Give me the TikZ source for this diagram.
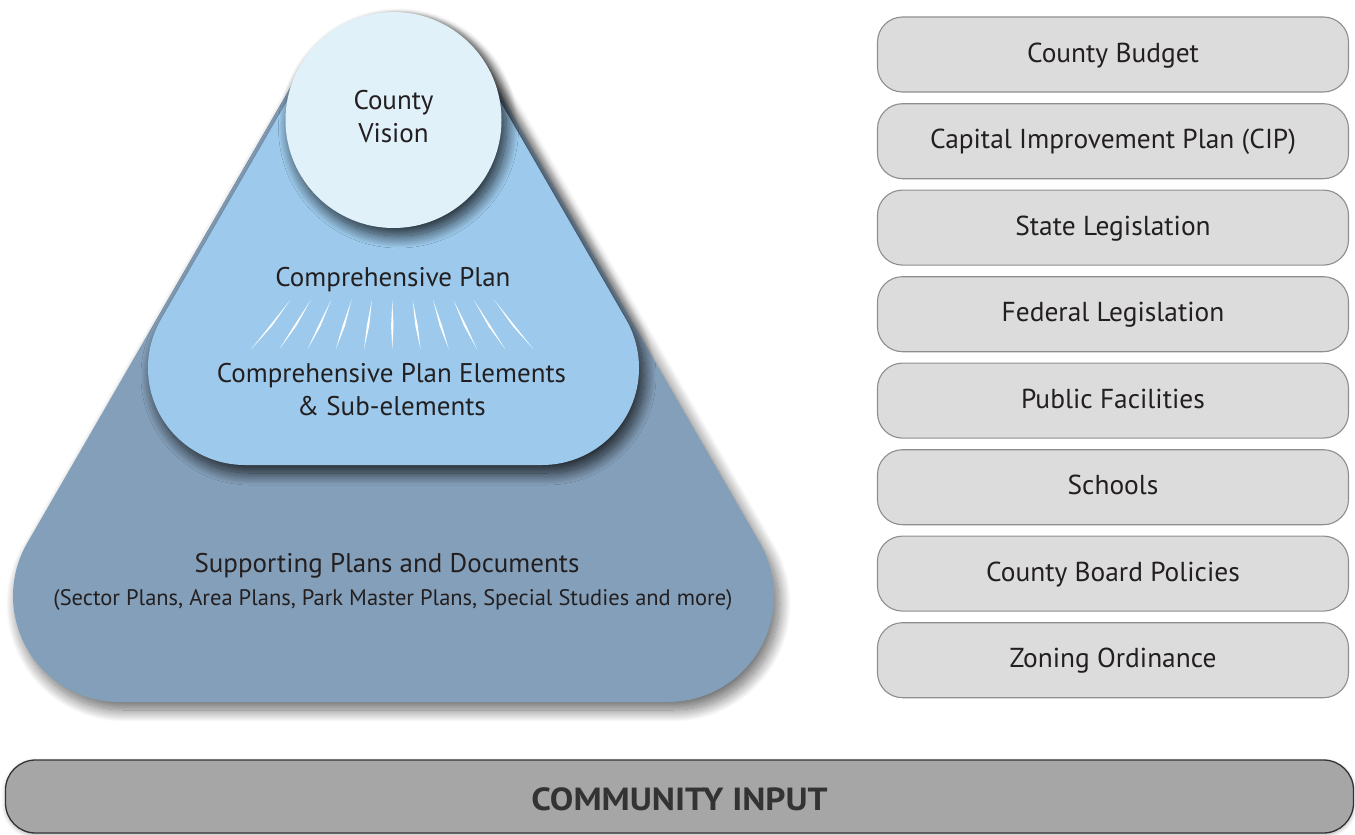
\documentclass[tikz,border=0pt]{standalone}
\usepackage{fontspec}
\setmainfont{PT Sans}
\usetikzlibrary{shadows.blur}
\definecolor{darktri}{HTML}{849FB9}
\definecolor{lighttri}{HTML}{9DCAEC}
\definecolor{circfill}{HTML}{E1F1FA}
\definecolor{boxfill}{HTML}{DCDCDC}
\definecolor{boxline}{HTML}{8E8E8E}
\definecolor{barfill}{HTML}{A6A6A6}
\definecolor{barline}{HTML}{333333}
\definecolor{ink}{HTML}{231F20}
\begin{document}
\begin{tikzpicture}[x=1pt,y=-1pt,
  lbl/.style={text=ink, inner sep=0pt, anchor=base},
  sidebox/.style={draw=boxline, line width=1.1pt, fill=boxfill, rounded corners=25pt,
    minimum width=471pt, minimum height=75pt, inner sep=0pt, text=ink,
    text height=19pt, text depth=4pt, font=\fontsize{27.4}{32}\selectfont},
  ray/.style={fill=white},
  softshadow/.style={blur shadow={shadow xshift=5pt, shadow yshift=-8pt,
    shadow blur radius=12pt, shadow blur steps=30, shadow opacity=#1}}
]
\useasboundingbox (0,0) rectangle (1355,835);

% outer (dark) rounded triangle
\fill[darktri, softshadow=60]
  (119,702) -- (668,702) arc[start angle=90,end angle=-30,radius=106]
  -- (485.3,67.6) arc[start angle=-30,end angle=-150,radius=106]
  -- (27.2,543) arc[start angle=210,end angle=90,radius=106] -- cycle;

% inner (light blue) rounded triangle
\fill[lighttri, softshadow=80]
  (245,465) -- (542,465) arc[start angle=90,end angle=-30,radius=97]
  -- (477.5,62.3) arc[start angle=-30,end angle=-150,radius=97]
  -- (161,319.5) arc[start angle=210,end angle=90,radius=97] -- cycle;

% circle
\fill[circfill, softshadow=80] (393.5,120) circle[radius=108];

% rays
\foreach \k in {-5,...,5}{
  \fill[ray] ({392.3+20.4*\k},300) -- ({393.5+24.3*\k},326) -- ({392.3+28.2*\k},349)
     -- ({391.1+24.3*\k},326) -- cycle;
}

% texts in the pyramid
\node[lbl, font=\fontsize{27}{32}\selectfont] (vis1) at (393.5,109.3) {County};
\node[lbl, font=\fontsize{27}{32}\selectfont] (vis2) at (393.5,142.7) {Vision};
\node[lbl, font=\fontsize{27}{32}\selectfont] (comp) at (393,286.7) {Comprehensive Plan};
\node[lbl, font=\fontsize{27}{32}\selectfont] (elem1) at (391.5,382.7) {Comprehensive Plan Elements};
\node[lbl, font=\fontsize{27}{32}\selectfont] (elem2) at (391.5,415) {\& Sub-elements};
\node[lbl, font=\fontsize{27}{32}\selectfont] (supp1) at (387,572.3) {Supporting Plans and Documents};
\node[lbl, font=\fontsize{22.5}{27}\selectfont] (supp2) at (393,605) {(Sector Plans, Area Plans, Park Master Plans, Special Studies and more)};

% right column
\node[sidebox] (b1) at (1113,54.5) {County Budget};
\node[sidebox] (b2) at (1113,141.2) {Capital Improvement Plan (CIP)};
\node[sidebox] (b3) at (1113,227.6) {State Legislation};
\node[sidebox] (b4) at (1113,314.2) {Federal Legislation};
\node[sidebox] (b5) at (1113,400.6) {Public Facilities};
\node[sidebox] (b6) at (1113,487.2) {Schools};
\node[sidebox] (b7) at (1113,573.6) {County Board Policies};
\node[sidebox] (b8) at (1113,660.2) {Zoning Ordinance};

% bottom bar
\node[draw=barline, line width=1.3pt, fill=barfill, rounded corners=30pt,
  minimum width=1348pt, minimum height=73pt, inner sep=0pt, text=barline,
  text height=27pt, text depth=0pt, font=\fontsize{32}{36}\bfseries,
  blur shadow={shadow xshift=0pt, shadow yshift=-2pt, shadow blur radius=4pt, shadow opacity=30}]
  (bar) at (679.5,796.5) {\scalebox{1.1}[1]{COMMUNITY INPUT}};
\end{tikzpicture}
\end{document}
